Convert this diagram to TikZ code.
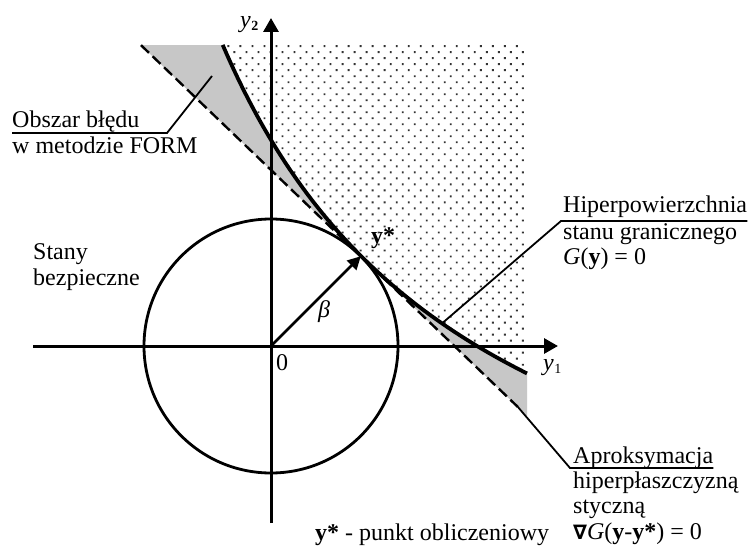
\documentclass[tikz,border=0pt]{standalone}
\usepackage{fontspec}
\setmainfont{Liberation Serif}
\newfontfamily\nablafont{DejaVu Sans}
\usetikzlibrary{arrows.meta,patterns.meta}
\tikzset{
 axisline/.style={line width=3pt, -{Triangle[width=15pt,length=14pt]}},
 lbl/.style={font=\fontsize{24}{25}\selectfont, inner sep=0pt, anchor=base west},
 leader/.style={line width=1.8pt},
 limitcurve/.style={line width=3.8pt},
 tangentline/.style={line width=2.4pt, dash pattern=on 11pt off 5pt},
 vecline/.style={line width=2.8pt, -{Triangle[width=13pt,length=13pt]}},
}
\begin{document}
\begin{tikzpicture}[x=1pt,y=-1pt]
\useasboundingbox (0,0) rectangle (750,551);
\fill[white] (0,0) rectangle (750,551);
% error region (between tangent and limit state)
\fill[black!22] (141,45.2) -- (222.7,45) -- plot[domain=-48.3:256,samples=80,smooth] ({271+\x},{657-401*(401/(\x+311))}) -- (527,415.8) -- cycle;
% failure domain
\fill[pattern={Dots[distance=8.5pt,radius=1.3pt,angle=45]}, pattern color=black!80] (527,45) -- (222.7,45) -- plot[domain=-48.3:256,samples=80,smooth] ({271+\x},{657-401*(401/(\x+311))}) -- cycle;
% axes and circle
\coordinate (O) at (271,346);
\coordinate (xL) at (33,346); \coordinate (xR) at (558,346);
\coordinate (yB) at (271,523); \coordinate (yT) at (271,18);
\node[circle, draw, line width=2.8pt, minimum size=254pt, inner sep=0pt] (circ) at (O) {};
\draw[axisline] (xL) -- (xR);
\draw[axisline] (yB) -- (yT);
% tangent
\coordinate (dS) at (141,45.2); \coordinate (dE) at (518,407.1);
\draw[tangentline] (dS) -- (dE);
% limit state curve
\draw[limitcurve] plot[domain=-48.3:256,samples=80,smooth] ({271+\x},{657-401*(401/(\x+311))});
% design point vector
\coordinate (ys) at (360.8,256.2);
\draw[vecline] (O) -- (ys);
% labels
\node[lbl] (y2) at (240,28) {\itshape y\kern0.5pt\raisebox{-3pt}{\fontsize{14}{14}\selectfont\upshape\bfseries 2}};
\node[lbl] (y1) at (543,370) {\itshape y\kern0.5pt\raisebox{-3pt}{\fontsize{14}{14}\selectfont\upshape 1}};
\node[lbl] (zero) at (276,370) {0};
\node[lbl] (beta) at (318,317) {\itshape β};
\node[lbl] (ystl) at (371,243) {\bfseries y*};
\node[lbl] (stany) at (33,259) {Stany};
\node[lbl] (bezp) at (33,285) {bezpieczne};
\node[lbl] (obsz) at (12,128) {Obszar błędu};
\node[lbl] (wmet) at (12,153) {w metodzie FORM};
\node[lbl] (hiper) at (563,212) {Hiperpowierzchnia};
\node[lbl] (stanu) at (563,239) {stanu granicznego};
\node[lbl] (gy) at (563,264) {\textit{G}(\textbf{y}) = 0};
\node[lbl] (apr) at (573,463) {Aproksymacja};
\node[lbl] (hpl) at (573,488) {hiperpłaszczyzną};
\node[lbl] (styc) at (573,513) {styczną};
\node[lbl] (grad) at (573,539) {{\nablafont\bfseries\fontsize{20}{20}\selectfont ∇}\textit{G}(\textbf{y}-\textbf{y*}) = 0};
\node[lbl] (pkt) at (315,540) {\textbf{y*} - punkt obliczeniowy};
% leaders
\coordinate (errPt) at (212,76);
\coordinate (obBend) at (167,133);
\draw[leader] (obsz.base west |- obBend) -- (obBend) -- (errPt);
\coordinate (gPt) at (442,323.4); \coordinate (hBend) at (561,221);
\draw[leader] (gPt) -- (hBend) -- (hBend -| hiper.east);
\coordinate (aBend) at (570,468);
\draw[leader] (dE) -- (aBend) -- (aBend -| apr.east);
\end{tikzpicture}
\end{document}
